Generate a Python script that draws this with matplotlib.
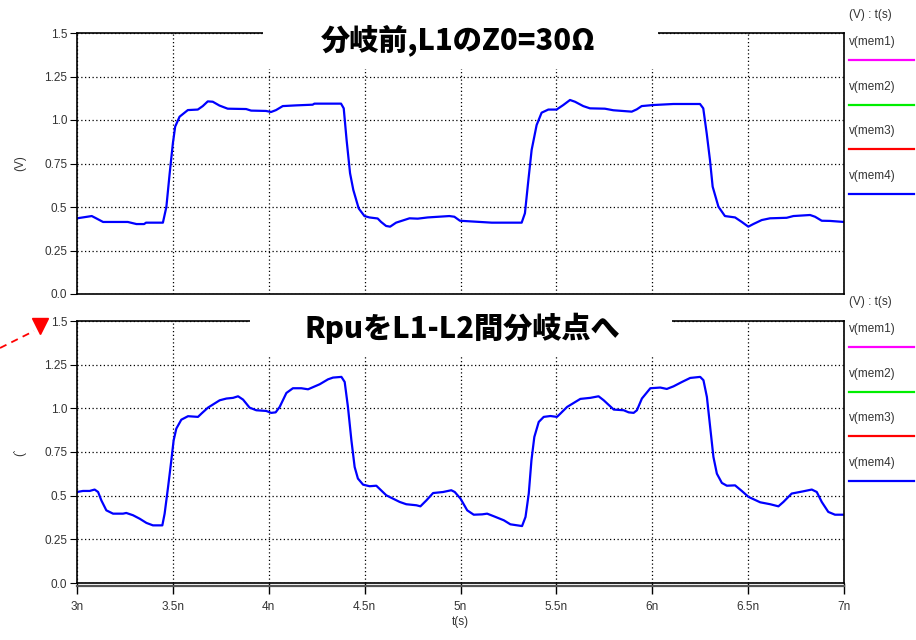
import matplotlib
matplotlib.use('agg')
import matplotlib.pyplot as plt  # noqa: E402
from matplotlib.patches import Rectangle  # noqa: E402
from matplotlib.lines import Line2D  # noqa: E402

plt.rcParams['font.family'] = ['Liberation Sans', 'DejaVu Sans']

# time in ns, voltage in V
t_top = [3.000, 3.030, 3.077, 3.100, 3.136, 3.265, 3.310, 3.350, 3.360, 3.448,
         3.466, 3.483, 3.500, 3.512, 3.535, 3.578, 3.630, 3.656, 3.682, 3.708,
         3.743, 3.786, 3.882, 3.908, 3.986, 4.012, 4.038, 4.073, 4.142, 4.229,
         4.238, 4.377, 4.391, 4.406, 4.424, 4.441, 4.469, 4.499, 4.525, 4.568,
         4.586, 4.612, 4.633, 4.664, 4.734, 4.777, 4.829, 4.942, 4.968, 4.997,
         5.163, 5.319, 5.336, 5.354, 5.371, 5.397, 5.423, 5.458, 5.501, 5.536,
         5.571, 5.597, 5.640, 5.675, 5.753, 5.797, 5.893, 5.919, 5.945, 6.005,
         6.110, 6.249, 6.266, 6.284, 6.301, 6.315, 6.345, 6.379, 6.432, 6.467,
         6.501, 6.527, 6.571, 6.614, 6.701, 6.736, 6.823, 6.849, 6.884, 6.927,
         7.000]
v_top = [0.435, 0.440, 0.448, 0.435, 0.414, 0.414, 0.402, 0.402, 0.410, 0.410,
         0.500, 0.690, 0.866, 0.962, 1.019, 1.057, 1.060, 1.080, 1.107, 1.105,
         1.083, 1.065, 1.063, 1.054, 1.052, 1.046, 1.057, 1.080, 1.084, 1.088,
         1.094, 1.094, 1.067, 0.885, 0.694, 0.598, 0.492, 0.448, 0.440, 0.434,
         0.414, 0.391, 0.387, 0.410, 0.435, 0.433, 0.440, 0.448, 0.444, 0.421,
         0.410, 0.410, 0.464, 0.655, 0.828, 0.971, 1.042, 1.060, 1.060, 1.086,
         1.115, 1.105, 1.080, 1.067, 1.065, 1.056, 1.048, 1.061, 1.080, 1.086,
         1.092, 1.092, 1.067, 0.923, 0.770, 0.617, 0.502, 0.448, 0.440, 0.414,
         0.387, 0.402, 0.425, 0.435, 0.438, 0.448, 0.454, 0.444, 0.421, 0.420,
         0.414]

t_bot = [3.000, 3.031, 3.066, 3.092, 3.110, 3.127, 3.153, 3.188, 3.240, 3.257,
         3.292, 3.327, 3.362, 3.396, 3.445, 3.457, 3.475, 3.492, 3.504, 3.518,
         3.544, 3.579, 3.631, 3.649, 3.683, 3.744, 3.779, 3.814, 3.840, 3.866,
         3.900, 3.935, 3.987, 4.013, 4.036, 4.057, 4.092, 4.126, 4.170, 4.205,
         4.266, 4.309, 4.335, 4.379, 4.396, 4.413, 4.431, 4.448, 4.465, 4.492,
         4.526, 4.561, 4.613, 4.683, 4.717, 4.770, 4.791, 4.822, 4.857, 4.909,
         4.952, 4.970, 5.000, 5.035, 5.069, 5.113, 5.139, 5.174, 5.226, 5.260,
         5.321, 5.339, 5.356, 5.370, 5.385, 5.408, 5.434, 5.469, 5.503, 5.521,
         5.556, 5.625, 5.677, 5.720, 5.747, 5.799, 5.851, 5.877, 5.903, 5.920,
         5.946, 5.990, 6.042, 6.076, 6.111, 6.155, 6.198, 6.250, 6.267, 6.285,
         6.302, 6.319, 6.337, 6.363, 6.389, 6.432, 6.467, 6.502, 6.563, 6.615,
         6.658, 6.684, 6.727, 6.788, 6.832, 6.858, 6.884, 6.918, 6.953, 7.000]
v_bot = [0.521, 0.527, 0.527, 0.535, 0.521, 0.473, 0.416, 0.397, 0.397, 0.401,
         0.388, 0.368, 0.344, 0.330, 0.330, 0.397, 0.550, 0.703, 0.817, 0.884,
         0.935, 0.955, 0.951, 0.970, 1.004, 1.046, 1.056, 1.060, 1.069, 1.050,
         1.004, 0.989, 0.985, 0.974, 0.977, 1.008, 1.088, 1.115, 1.115, 1.109,
         1.138, 1.166, 1.176, 1.180, 1.151, 1.008, 0.817, 0.664, 0.598, 0.563,
         0.554, 0.557, 0.502, 0.464, 0.451, 0.445, 0.439, 0.473, 0.515, 0.521,
         0.531, 0.521, 0.483, 0.416, 0.391, 0.393, 0.397, 0.382, 0.359, 0.336,
         0.326, 0.378, 0.512, 0.703, 0.836, 0.922, 0.951, 0.956, 0.951, 0.970,
         1.008, 1.054, 1.060, 1.069, 1.046, 0.993, 0.989, 0.977, 0.974, 0.989,
         1.056, 1.115, 1.119, 1.111, 1.126, 1.151, 1.174, 1.180, 1.161, 1.065,
         0.893, 0.722, 0.626, 0.573, 0.557, 0.559, 0.527, 0.493, 0.462, 0.451,
         0.439, 0.464, 0.512, 0.525, 0.535, 0.521, 0.464, 0.407, 0.391, 0.391]

x_ticks = [3.0, 3.5, 4.0, 4.5, 5.0, 5.5, 6.0, 6.5, 7.0]
x_labels = ['3n', '3.5n', '4n', '4.5n', '5n', '5.5n', '6n', '6.5n', '7n']
y_ticks = [0.0, 0.25, 0.5, 0.75, 1.0, 1.25, 1.5]
y_labels = ['0.0', '0.25', '0.5', '0.75', '1.0', '1.25', '1.5']

legend_names = ['v(mem1)', 'v(mem2)', 'v(mem3)', 'v(mem4)']
legend_colors = ['#ff00ff', '#00ee00', '#ff0000', '#0000ff']

titles = ['分岐前,L1のZ0=30Ω', 'RpuをL1-L2間分岐点へ']

W, H = 916, 640
fig = plt.figure(figsize=(W / 100, H / 100), dpi=100)
txt_col = '#333333'


def fx(px):
    return px / W


def fy(py):
    return 1 - py / H


def setup_axes(ax, show_x):
    ax.set_xlim(3.0, 7.0)
    ax.set_ylim(0.0, 1.5)
    ax.set_yticks(y_ticks)
    ax.set_yticklabels(y_labels)
    ax.set_xticks(x_ticks)
    ax.grid(True, color='black', linestyle=(0, (1, 2)), linewidth=0.9)
    for s in ['top', 'right', 'left', 'bottom']:
        ax.spines[s].set_linewidth(1.2)
    ax.tick_params(axis='y', length=5, width=0.8, labelsize=8.5,
                   labelcolor=txt_col, pad=2)
    if show_x:
        ax.set_xticklabels(x_labels)
        ax.tick_params(axis='x', length=8, width=1.0, labelsize=8.5,
                       labelcolor=txt_col, pad=5, direction='out')
        ax.add_line(Line2D([0, 1], [-0.012, -0.012], transform=ax.transAxes,
                           color='#555555', linewidth=1.6, clip_on=False))
    else:
        ax.tick_params(axis='x', length=0, labelbottom=False)


ax1 = fig.add_axes([fx(77), fy(294), fx(844) - fx(77), fy(33) - fy(294)])
ax2 = fig.add_axes([fx(77), fy(583), fx(844) - fx(77), fy(321) - fy(583)])

ax1.plot(t_top, v_top, color='#0000ff', linewidth=1.6)
ax2.plot(t_bot, v_bot, color='#0000ff', linewidth=1.6)
setup_axes(ax1, False)
setup_axes(ax2, True)

ax1.set_ylabel('(V)', fontsize=8.5, color=txt_col, labelpad=13)
ax2.set_ylabel('(`', fontsize=8.5, color=txt_col, labelpad=13)
ax2.set_xlabel('t(s)', fontsize=8.5, color=txt_col, labelpad=2)

# white boxes hiding the frame behind the titles
fig.add_artist(Rectangle((fx(263), fy(69)), fx(658) - fx(263), fy(0) - fy(69),
                         transform=fig.transFigure, facecolor='white',
                         edgecolor='none', zorder=5))
fig.add_artist(Rectangle((fx(250), fy(357)), fx(672) - fx(250), fy(306) - fy(357),
                         transform=fig.transFigure, facecolor='white',
                         edgecolor='none', zorder=5))
fig.text(fx(458), fy(40), titles[0], ha='center', va='center', fontsize=21,
         fontweight='heavy', family=['Noto Sans CJK JP', 'DejaVu Sans'], zorder=6)
fig.text(fx(462), fy(328), titles[1], ha='center', va='center', fontsize=21,
         fontweight='heavy', family=['Noto Sans CJK JP', 'DejaVu Sans'], zorder=6)

# legends on the right
for top in [15, 302]:
    fig.text(fx(849), fy(top), '(V) : t(s)', ha='left', va='center',
             fontsize=8.5, color=txt_col)
    for i, (name, col) in enumerate(zip(legend_names, legend_colors)):
        yt = top + 27 + i * 44.7
        fig.text(fx(849), fy(yt), name, ha='left', va='center',
                 fontsize=8.5, color=txt_col)
        fig.add_artist(Line2D([fx(849), fx(914)], [fy(yt + 18), fy(yt + 18)],
                              transform=fig.transFigure, color=col, linewidth=1.6))

# red dashed arrow at left
fig.add_artist(Line2D([fx(0), fx(34)], [fy(348), fy(331)], transform=fig.transFigure,
                      color='#ff0000', linewidth=1.3, linestyle=(0, (4, 3))))
fig.add_artist(Line2D([fx(40)], [fy(326)], transform=fig.transFigure, marker='v',
                      markersize=11, color='#ff0000', linestyle='none'))

fig.savefig('out.png', dpi=100)
